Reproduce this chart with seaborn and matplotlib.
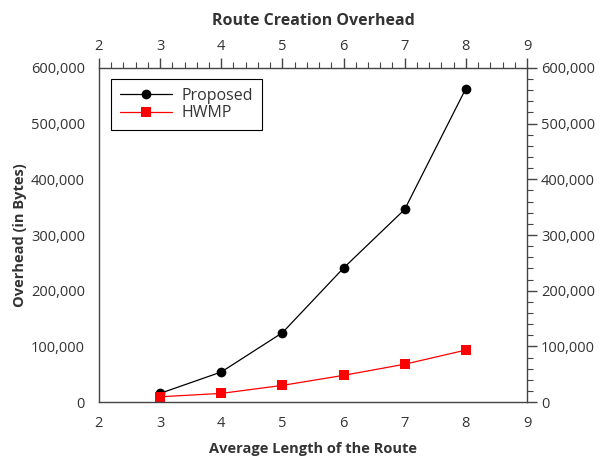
import seaborn as sns
import matplotlib.pyplot as plt
import pandas as pd
from matplotlib.ticker import MultipleLocator, FuncFormatter

route_length = [3, 4, 5, 6, 7, 8]
proposed = [15600, 54000, 124500, 240700, 346000, 563000]
hwmp = [9500, 15600, 30000, 48000, 68000, 93400]

df = pd.DataFrame({'length': route_length * 2,
                   'overhead': proposed + hwmp,
                   'method': ['Proposed'] * 6 + ['HWMP'] * 6})

sns.set_theme(style="white")
plt.rcParams['font.family'] = ['Open Sans', 'DejaVu Sans']
txt = '#333333'

fig = plt.figure(figsize=(6.03, 4.59), dpi=100)
ax = fig.add_axes([0.164, 0.124, 0.710, 0.728])

sns.lineplot(data=df, x='length', y='overhead', hue='method', style='method',
             markers={'Proposed': 'o', 'HWMP': 's'}, dashes=False,
             palette={'Proposed': 'black', 'HWMP': 'red'},
             markersize=7, markeredgewidth=0, linewidth=0.9, ax=ax)

ax.set_xlim(2, 9)
ax.set_ylim(0, 600000)
ax.xaxis.set_major_locator(MultipleLocator(1))
ax.xaxis.set_minor_locator(MultipleLocator(0.2))
ax.yaxis.set_major_locator(MultipleLocator(100000))
ax.yaxis.set_minor_locator(MultipleLocator(20000))
ax.yaxis.set_major_formatter(FuncFormatter(lambda v, p: f'{int(v):,}'))

for s in ax.spines.values():
    s.set_color('#444444')
    s.set_linewidth(1.0)

ax.tick_params(which='both', direction='out', top=True, right=True,
               labeltop=True, labelright=True, colors='#444444',
               labelcolor=txt, labelsize=10.5)
ax.tick_params(which='major', length=7, width=1, pad=3)
ax.tick_params(which='minor', length=4.3, width=0.8)

ax.set_xlabel('Average Length of the Route', fontsize=10.5, fontweight='bold', color=txt, labelpad=8)
ax.set_ylabel('Overhead (in Bytes)', fontsize=10.5, fontweight='bold', color=txt, labelpad=3)
ax.set_title('Route Creation Overhead', fontsize=11.5, fontweight='bold', color=txt, pad=10)

handles, labels = ax.get_legend_handles_labels()
leg = ax.legend(handles, labels, loc='upper left', bbox_to_anchor=(0.028, 0.967),
                borderaxespad=0, fancybox=False, framealpha=1, edgecolor='black',
                fontsize=11.5, handlelength=3.3, borderpad=0.55, labelspacing=0.1,
                handletextpad=0.6)
leg.get_frame().set_linewidth(0.8)
for t in leg.get_texts():
    t.set_color(txt)

plt.savefig('out.png', dpi=100)
